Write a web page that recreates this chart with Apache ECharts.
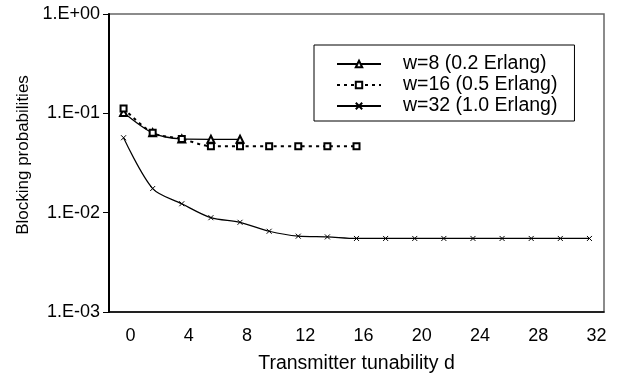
<!DOCTYPE html>
<html>
<head>
<meta charset="utf-8">
<script src="https://cdn.jsdelivr.net/npm/echarts@6/dist/echarts.min.js"></script>
<style>
html,body{margin:0;padding:0;background:#fff;}
#chart{width:621px;height:379px;}
</style>
</head>
<body>
<div id="chart"></div>
<script>
// ---- data ----
const seriesNames = ['w=8 (0.2 Erlang)', 'w=16 (0.5 Erlang)', 'w=32 (1.0 Erlang)'];
const d8 = [0, 2, 4, 6, 8];
const w8 = [0.102, 0.0636, 0.0553, 0.0548, 0.0548];
const d16 = [0, 2, 4, 6, 8, 10, 12, 14, 16];
const w16 = [0.112, 0.0636, 0.0553, 0.0467, 0.0467, 0.0467, 0.0467, 0.0467, 0.0467];
const d32 = [0, 2, 4, 6, 8, 10, 12, 14, 16, 18, 20, 22, 24, 26, 28, 30, 32];
const w32 = [0.0568, 0.0175, 0.0123, 0.0089, 0.0080, 0.0065, 0.0058, 0.0057, 0.0055, 0.0055, 0.0055, 0.0055, 0.0055, 0.0055, 0.0055, 0.0055, 0.0055];
const xTicks = [0, 4, 8, 12, 16, 20, 24, 28, 32];
const yTickLabels = {'1': '1.E+00', '0.1': '1.E-01', '0.01': '1.E-02', '0.001': '1.E-03'};

const pairs = (xs, ys) => xs.map((x, i) => [x, ys[i]]);
const FONT = '"Liberation Sans", Arial, sans-serif';

const chart = echarts.init(document.getElementById('chart'), null, {renderer: 'canvas'});
chart.setOption({
  backgroundColor: '#fff',
  animation: false,
  textStyle: {fontFamily: FONT, color: '#000'},
  grid: {left: 109, right: 17, top: 14, bottom: 66, show: true, borderColor: '#666', borderWidth: 1.5},
  legend: {
    orient: 'vertical', left: 314, top: 45,
    padding: [9, 17, 5, 22],
    borderColor: '#000', borderWidth: 1,
    itemWidth: 44, itemHeight: 8, itemGap: 1,
    textStyle: {fontFamily: FONT, fontSize: 19.5, color: '#000', padding: [0, 0, 0, 17]},
    data: seriesNames
  },
  xAxis: {
    type: 'value', min: -1, max: 33,
    splitLine: {show: false},
    axisLine: {lineStyle: {color: '#000', width: 1.5}},
    axisTick: {show: false},
    axisLabel: {customValues: xTicks, fontSize: 18, color: '#000', margin: 15, fontFamily: FONT, padding: [0, 0, 0, 14]},
    name: 'Transmitter tunability d', nameLocation: 'middle', nameGap: 42,
    nameTextStyle: {fontSize: 19.5, color: '#000', fontFamily: FONT}
  },
  yAxis: {
    type: 'log', logBase: 10, min: 0.001, max: 1,
    splitLine: {show: false},
    minorTick: {show: false},
    axisLine: {show: true, onZero: false, lineStyle: {color: '#000', width: 2}},
    axisTick: {show: true, length: 6, lineStyle: {color: '#000'}},
    axisLabel: {
      fontSize: 18, color: '#000', margin: 9, fontFamily: FONT,
      formatter: v => yTickLabels[String(+v.toPrecision(3))] || ''
    },
    name: 'Blocking probabilities', nameLocation: 'middle', nameGap: 76,
    nameTextStyle: {fontSize: 17, color: '#000', fontFamily: FONT, padding: [0, 0, 0, 16]}
  },
  series: [
    {
      name: seriesNames[0], type: 'line', data: pairs(d8, w8), smooth: 0.3,
      symbol: 'emptyTriangle', symbolSize: 7,
      lineStyle: {color: '#000', width: 1.2},
      itemStyle: {color: '#000', borderColor: '#000', borderWidth: 1}
    },
    {
      name: seriesNames[1], type: 'line', data: pairs(d16, w16), smooth: 0.3,
      symbol: 'emptyRect', symbolSize: 6,
      lineStyle: {color: '#000', width: 2, type: [3, 4]},
      itemStyle: {color: '#000', borderColor: '#000', borderWidth: 1}
    },
    {
      name: seriesNames[2], type: 'line', data: pairs(d32, w32), smooth: 0.3,
      symbol: 'path://M0,0L10,10M10,0L0,10', symbolSize: 5,
      lineStyle: {color: '#000', width: 1.2},
      itemStyle: {color: '#000', borderColor: '#000', borderWidth: 1}
    }
  ]
});
</script>
</body>
</html>
